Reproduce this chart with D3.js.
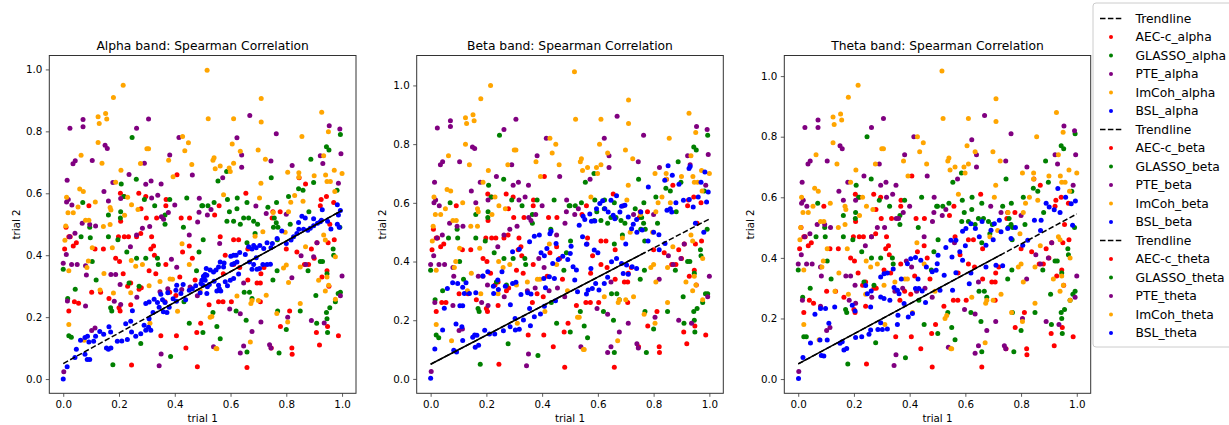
<!DOCTYPE html>
<html>
<head>
<meta charset="utf-8">
<script src="https://cdn.jsdelivr.net/npm/d3@7"></script>
<style>
  body { margin: 0; background: #fff; }
  text { font-family: "DejaVu Sans", sans-serif; fill: #000; }
</style>
</head>
<body>
<svg id="chart" width="1229" height="425"></svg>
<script>
// chart data

const bands = ['alpha', 'beta', 'theta'];
const titles = ['Alpha band: Spearman Correlation', 'Beta band: Spearman Correlation', 'Theta band: Spearman Correlation'];
const seriesNames = ['AEC-c', 'GLASSO', 'PTE', 'ImCoh', 'BSL'];
const seriesColors = ['#ff0000', '#008000', '#800080', '#ffa500', '#0000ff'];
const tickValues = [0, 0.2, 0.4, 0.6, 0.8, 1.0];
const xRange = [-0.05, 1.05];
const yRanges = [[-0.046, 1.045], [-0.049, 1.102], [-0.047, 1.068]];
const trendX = [0, 1];
const trendY = [0.05, 0.545];
// part of the trendline that looks solid in each panel
const trendSolid = [[0.31, 1], [0, 0.77], [0, 0.73]];

// rows: [trial 1, trial 2 alpha, trial 2 beta, trial 2 theta]
const aecRows = [
    [0.408,.66,.69,.67],[0.092,.56,.59,.57],[0.205,.60,.63,.61],[0.219,.59,.62,.60],[0.271,.60,.63,.61],
    [0.296,.59,.62,.60],[0.279,.55,.58,.56],[0.298,.52,.55,.53],[0.335,.52,.55,.53],[0.369,.58,.61,.59],
    [0.423,.52,.55,.53],[0.453,.52,.55,.53],[0.368,.56,.59,.57],[0.206,.51,.54,.52],[0.655,.60,.63,.61],
    [0.869,.63,.66,.64],[0.846,.65,.68,.66],[0.944,.59,.62,.60],[0.925,.58,.61,.59],[0.922,.56,.59,.57],
    [0.559,.56,.59,.57],[0.543,.53,.56,.54],[0.778,.54,.57,.55],[0.752,.54,.57,.55],[0.956,.50,.53,.51],
    [0.749,.52,.55,.53],[0.025,.46,.48,.47],[0.047,.44,.46,.45],[0.036,.43,.45,.44],[0.020,.22,.23,.22],
    [0.040,.25,.26,.26],[0.055,.245,.26,.25],[0.114,.42,.44,.43],[0.144,.42,.44,.43],[0.188,.39,.41,.40],
    [0.202,.38,.40,.39],[0.198,.46,.48,.47],[0.219,.46,.48,.47],[0.234,.46,.48,.47],[0.263,.46,.48,.47],
    [0.278,.47,.49,.48],[0.317,.46,.48,.47],[0.324,.43,.45,.44],[0.314,.42,.44,.43],[0.327,.40,.42,.41],
    [0.332,.34,.36,.35],[0.215,.34,.36,.35],[0.231,.30,.32,.31],[0.242,.31,.33,.32],[0.272,.29,.30,.30],
    [0.280,.295,.31,.30],[0.102,.28,.29,.29],[0.134,.28,.29,.29],[0.164,.26,.27,.27],[0.200,.23,.24,.23],
    [0.204,.22,.23,.22],[0.242,.24,.25,.24],[0.308,.35,.37,.36],[0.365,.25,.26,.26],[0.368,.37,.39,.38],
    [0.382,.28,.29,.29],[0.404,.27,.28,.28],[0.418,.33,.35,.34],[0.428,.41,.43,.42],[0.452,.43,.45,.44],
    [0.463,.39,.41,.40],[0.473,.32,.34,.33],[0.350,.14,.15,.14],[0.406,.14,.15,.14],[0.440,.10,.11,.10],
    [0.245,.045,.05,.05],[0.481,.04,.04,.04],[0.479,.15,.16,.15],[0.493,.18,.19,.18],[0.010,.49,.51,.50],
    [0.020,.46,.48,.47],[0.005,.42,.44,.43],[0.563,.46,.48,.47],[0.611,.45,.47,.46],[0.629,.45,.47,.46],
    [0.581,.40,.42,.41],[0.611,.37,.39,.38],[0.662,.42,.44,.43],[0.633,.36,.38,.37],[0.574,.34,.36,.35],
    [0.695,.31,.33,.32],[0.707,.31,.33,.32],[0.709,.34,.36,.35],[0.662,.32,.34,.33],[0.557,.25,.26,.26],
    [0.573,.25,.26,.26],[0.523,.24,.25,.24],[0.603,.25,.26,.26],[0.707,.25,.26,.26],[0.779,.17,.18,.17],
    [0.812,.22,.23,.22],[0.820,.10,.11,.10],[0.821,.08,.09,.08],[0.659,.037,.04,.04],[0.746,.10,.11,.10],
    [0.865,.37,.39,.38],[0.880,.37,.39,.38],[0.910,.44,.46,.45],[0.972,.45,.47,.46],[0.970,.57,.60,.58],
    [0.928,.33,.35,.34],[0.946,.35,.37,.36],[0.953,.30,.32,.31],[0.908,.15,.16,.15],[0.919,.11,.12,.11],
    [0.987,.14,.15,.14],[0.948,.17,.18,.17],[0.838,.41,.43,.42],[0.800,.42,.44,.43],[0.890,.42,.44,.43],
    [0.900,.39,.41,.40],[0.950,.44,.46,.45],[0.720,.36,.38,.37]
];

const glassoRows = [
    [0.247,.78,.83,.80],[0.208,.63,.66,.64],[0.262,.645,.68,.66],[0.070,.57,.60,.58],[0.162,.53,.56,.54],
    [0.206,.54,.57,.55],[0.205,.52,.55,.53],[0.217,.59,.62,.60],[0.291,.58,.61,.59],[0.328,.56,.59,.57],
    [0.382,.58,.61,.59],[0.365,.53,.56,.54],[0.365,.50,.53,.51],[0.443,.585,.61,.60],[0.497,.56,.59,.57],
    [0.586,.67,.70,.68],[0.555,.64,.67,.65],[0.746,.65,.68,.66],[0.888,.71,.74,.72],[0.944,.75,.79,.77],
    [0.953,.74,.78,.76],[0.994,.79,.83,.81],[0.898,.635,.67,.65],[0.844,.615,.65,.63],[0.860,.61,.64,.62],
    [0.982,.61,.64,.62],[0.589,.58,.61,.59],[0.624,.585,.61,.60],[0.659,.57,.60,.58],[0.541,.57,.60,.58],
    [0.500,.56,.59,.57],[0.519,.56,.59,.57],[0.596,.54,.57,.55],[0.623,.55,.58,.56],[0.765,.57,.60,.58],
    [0.734,.555,.58,.57],[0.808,.59,.62,.60],[0.881,.54,.57,.55],[0.587,.51,.54,.52],[0.611,.51,.54,.52],
    [0.647,.52,.55,.53],[0.665,.52,.55,.53],[0.683,.51,.54,.52],[0.697,.50,.53,.51],[0.757,.52,.55,.53],
    [0.764,.505,.53,.51],[0.770,.49,.51,.50],[0.814,.50,.53,.51],[0.000,.355,.37,.36],[0.020,.14,.15,.14],
    [0.029,.135,.14,.14],[0.016,.26,.27,.27],[0.043,.29,.30,.30],[0.064,.46,.48,.47],[0.097,.456,.48,.47],
    [0.095,.49,.51,.50],[0.162,.46,.48,.47],[0.196,.45,.47,.46],[0.118,.32,.34,.33],[0.104,.38,.40,.39],
    [0.170,.23,.24,.23],[0.174,.22,.23,.22],[0.228,.41,.43,.42],[0.263,.39,.41,.40],[0.296,.39,.41,.40],
    [0.272,.30,.32,.31],[0.338,.39,.41,.40],[0.341,.37,.39,.38],[0.236,.31,.33,.32],[0.431,.49,.51,.50],
    [0.487,.41,.43,.42],[0.478,.35,.37,.36],[0.502,.45,.47,.46],[0.278,.115,.12,.12],[0.178,.046,.05,.05],
    [0.385,.073,.08,.07],[0.452,.18,.19,.18],[0.433,.25,.26,.26],[0.635,.50,.53,.51],[0.659,.44,.46,.45],
    [0.688,.47,.49,.48],[0.754,.49,.51,.50],[0.768,.45,.47,.46],[0.767,.35,.37,.36],[0.752,.32,.34,.33],
    [0.878,.35,.37,.36],[0.922,.38,.40,.39],[0.946,.34,.36,.35],[0.968,.42,.44,.43],[0.992,.49,.51,.50],
    [0.906,.27,.28,.28],[0.956,.23,.24,.23],[0.944,.215,.23,.22],[0.946,.195,.20,.20],[0.948,.15,.16,.15],
    [0.986,.276,.29,.28],[0.994,.28,.29,.29],[0.976,.25,.26,.26],[0.909,.18,.19,.18],[0.850,.22,.23,.22],
    [0.769,.22,.23,.22],[0.800,.16,.17,.16],[0.774,.084,.09,.09],[0.656,.19,.20,.19],[0.620,.22,.23,.22],
    [0.563,.13,.14,.13],[0.551,.17,.18,.17],[0.537,.215,.23,.22],[0.501,.15,.16,.15],[0.659,.087,.09,.09],
    [0.649,.28,.29,.29],[0.668,.28,.29,.29],[0.677,.26,.27,.27],[0.930,.38,.40,.39],[0.970,.40,.42,.41]
];

const pteRows = [
    [0.071,.838,.88,.855],[0.071,.815,.86,.83],[0.024,.81,.855,.83],[0.306,.84,.885,.86],[0.263,.81,.85,.83],
    [0.150,.755,.79,.77],[0.158,.745,.785,.76],[0.415,.78,.82,.80],[0.035,.695,.73,.71],[0.043,.705,.74,.72],
    [0.104,.706,.74,.72],[0.382,.724,.76,.74],[0.291,.697,.73,.71],[0.236,.661,.69,.67],[0.463,.659,.69,.67],
    [0.014,.642,.67,.65],[0.178,.635,.67,.65],[0.296,.629,.66,.64],[0.315,.64,.67,.65],[0.351,.63,.66,.64],
    [0.146,.606,.64,.62],[0.012,.572,.60,.58],[0.018,.58,.61,.59],[0.031,.562,.59,.57],[0.162,.575,.60,.59],
    [0.339,.594,.62,.61],[0.317,.585,.61,.60],[0.206,.583,.61,.59],[0.487,.539,.57,.55],[0.488,.584,.61,.60],
    [0.400,.562,.59,.57],[0.482,.507,.53,.52],[0.352,.524,.55,.53],[0.377,.538,.56,.55],[0.360,.516,.54,.53],
    [0.068,.503,.53,.51],[0.116,.494,.52,.50],[0.669,.851,.895,.87],[0.764,.792,.83,.81],[0.623,.779,.82,.79],
    [0.640,.724,.76,.74],[0.640,.684,.72,.70],[0.745,.704,.74,.72],[0.821,.69,.72,.70],[0.922,.721,.76,.74],
    [0.931,.696,.73,.71],[0.954,.818,.86,.835],[0.992,.808,.85,.82],[0.996,.728,.765,.74],[0.987,.632,.66,.64],
    [0.572,.65,.68,.66],[0.530,.548,.58,.56],[0.517,.53,.56,.54],[0.691,.559,.59,.57],[0.728,.535,.56,.55],
    [0.800,.532,.56,.54],[0.000,.374,.39,.38],[0.011,.402,.42,.41],[0.030,.37,.39,.38],[0.050,.37,.39,.38],
    [0.080,.366,.38,.37],[0.083,.336,.35,.34],[0.015,.252,.26,.26],[0.080,.236,.25,.24],[0.102,.157,.165,.16],
    [0.114,.165,.17,.17],[0.171,.338,.35,.34],[0.188,.338,.35,.34],[0.204,.305,.32,.31],[0.183,.251,.26,.26],
    [0.206,.241,.25,.25],[0.264,.264,.28,.27],[0.284,.487,.51,.50],[0.263,.465,.49,.47],[0.241,.427,.45,.44],
    [0.310,.493,.52,.50],[0.388,.387,.41,.39],[0.407,.361,.38,.37],[0.347,.282,.30,.29],[0.375,.292,.31,.30],
    [0.344,.043,.045,.045],[0.351,.081,.085,.08],[0.095,.499,.52,.51],[0.042,.471,.49,.48],[0.023,.46,.48,.47],
    [0.452,.465,.49,.47],[0.481,.269,.28,.27],[0.455,.297,.31,.30],[0.425,.289,.30,.29],[0.002,.024,.025,.025],
    [0.561,.438,.46,.45],[0.647,.31,.33,.32],[0.820,.327,.34,.33],[0.853,.398,.42,.41],[0.898,.395,.41,.40],
    [1.000,.333,.35,.34],[0.994,.269,.28,.27],[0.890,.189,.20,.19],[0.936,.181,.19,.18],[0.805,.20,.21,.20],
    [0.709,.184,.19,.19],[0.677,.154,.16,.16],[0.647,.107,.11,.11],[0.635,.084,.09,.085],[0.740,.111,.12,.11],
    [0.745,.100,.105,.10],[0.539,.104,.11,.105],[0.597,.226,.24,.23],[0.635,.211,.22,.215],[0.870,.37,.39,.38],
    [0.910,.44,.46,.45]
];

const imcohRows = [
    [0.215,.949,1.00,.97],[0.180,.909,.955,.93],[0.152,.858,.90,.875],[0.125,.847,.89,.865],[0.156,.840,.88,.855],
    [0.129,.825,.87,.84],[0.125,.764,.80,.78],[0.064,.723,.76,.74],[0.139,.697,.73,.71],[0.306,.744,.78,.76],
    [0.300,.744,.78,.76],[0.207,.674,.71,.69],[0.277,.696,.73,.71],[0.428,.783,.82,.80],[0.449,.763,.80,.78],
    [0.436,.737,.77,.75],[0.461,.693,.73,.71],[0.378,.707,.74,.72],[0.394,.653,.69,.67],[0.188,.636,.67,.65],
    [0.059,.614,.645,.63],[0.072,.606,.64,.62],[0.012,.587,.62,.60],[0.115,.572,.60,.58],[0.245,.563,.59,.57],
    [0.231,.587,.62,.60],[0.268,.548,.58,.56],[0.168,.554,.58,.57],[0.171,.546,.57,.56],[0.017,.537,.56,.55],
    [0.036,.537,.56,.55],[0.053,.556,.58,.57],[0.080,.513,.54,.52],[0.092,.513,.54,.52],[0.168,.499,.52,.51],
    [0.009,.494,.52,.50],[0.220,.529,.56,.54],[0.516,.997,1.047,1.017],[0.520,.841,.885,.86],[0.611,.841,.885,.86],
    [0.710,.906,.95,.925],[0.710,.830,.87,.85],[0.927,.862,.905,.88],[0.606,.759,.80,.77],[0.635,.736,.77,.75],
    [0.699,.740,.78,.75],[0.541,.715,.75,.73],[0.537,.707,.74,.72],[0.563,.688,.72,.70],[0.545,.679,.71,.69],
    [0.611,.697,.73,.71],[0.595,.682,.72,.70],[0.599,.670,.70,.68],[0.725,.710,.75,.72],[0.709,.632,.66,.64],
    [0.856,.783,.82,.80],[0.951,.799,.84,.815],[0.934,.721,.76,.74],[0.805,.668,.70,.68],[0.845,.666,.70,.68],
    [0.900,.657,.69,.67],[0.941,.659,.69,.67],[0.972,.674,.71,.69],[1.000,.664,.70,.68],[0.946,.638,.67,.65],
    [0.958,.638,.67,.65],[0.845,.652,.68,.66],[0.575,.595,.62,.61],[0.704,.585,.61,.60],[0.860,.574,.60,.59],
    [0.974,.606,.64,.62],[0.816,.571,.60,.58],[0.830,.593,.62,.60],[0.808,.540,.57,.55],[0.753,.538,.56,.55],
    [0.006,.448,.47,.46],[0.144,.493,.52,.50],[0.104,.424,.445,.43],[0.176,.424,.445,.43],[0.260,.364,.38,.37],
    [0.284,.370,.39,.38],[0.244,.383,.40,.39],[0.308,.301,.32,.31],[0.180,.278,.29,.28],[0.242,.279,.29,.28],
    [0.020,.176,.185,.18],[0.075,.125,.13,.13],[0.146,.341,.36,.35],[0.090,.381,.40,.39],[0.392,.322,.34,.33],
    [0.426,.437,.46,.45],[0.452,.370,.39,.38],[0.410,.219,.23,.22],[0.020,.350,.37,.36],[0.085,.360,.38,.37],
    [0.132,.288,.30,.29],[0.347,.315,.33,.32],[0.383,.323,.34,.33],[0.491,.288,.30,.29],[0.533,.202,.21,.21],
    [0.311,.180,.19,.18],[0.548,.099,.10,.10],[0.688,.461,.48,.47],[0.716,.476,.50,.49],[0.796,.474,.50,.48],
    [0.850,.362,.38,.37],[0.869,.427,.45,.44],[0.934,.465,.49,.47],[0.940,.449,.47,.46],[0.976,.395,.41,.40],
    [0.946,.330,.35,.34],[0.952,.303,.32,.31],[0.940,.284,.30,.29],[0.976,.258,.27,.26],[0.916,.319,.33,.33],
    [0.800,.368,.39,.38],[0.790,.359,.38,.37],[0.808,.312,.33,.32],[0.728,.271,.28,.28],[0.700,.254,.27,.26],
    [0.677,.254,.27,.26],[0.673,.244,.26,.25],[0.623,.268,.28,.27],[0.766,.212,.22,.22],[0.805,.184,.19,.19],
    [0.850,.244,.26,.25],[0.671,.120,.13,.12],[0.551,.098,.10,.10],[0.527,.200,.21,.20]
];

// BSL differs per band: [trial 1, trial 2]
const bslAlpha = [
    [0.000,0.000],[0.014,0.040],[0.042,0.070],[0.078,0.080],[0.086,0.063],[0.095,0.063],[0.047,0.096],[0.062,0.125],
    [0.078,0.134],[0.087,0.138],[0.092,0.120],[0.109,0.122],[0.116,0.138],[0.131,0.154],[0.145,0.145],[0.164,0.169],
    [0.170,0.152],[0.155,0.100],[0.162,0.096],[0.171,0.100],[0.194,0.122],[0.210,0.123],[0.230,0.128],[0.245,0.152],
    [0.224,0.179],[0.242,0.187],[0.260,0.138],[0.278,0.146],[0.296,0.158],[0.306,0.167],[0.314,0.158],[0.290,0.174],
    [0.308,0.195],[0.322,0.215],[0.296,0.244],[0.308,0.249],[0.326,0.258],[0.338,0.247],[0.344,0.232],[0.356,0.256],
    [0.359,0.217],[0.380,0.232],[0.394,0.259],[0.406,0.251],[0.365,0.247],[0.350,0.274],[0.375,0.279],[0.404,0.287],
    [0.422,0.276],[0.430,0.305],[0.439,0.256],[0.452,0.287],[0.463,0.292],[0.475,0.301],[0.494,0.309],[0.505,0.330],
    [0.509,0.338],[0.407,0.303],[0.372,0.215],[0.248,0.221],
    [0.922,0.508],[0.898,0.495],[0.886,0.487],[0.877,0.481],[0.862,0.484],[0.845,0.484],[0.826,0.460],[0.838,0.470],
    [0.817,0.449],[0.800,0.438],[0.784,0.478],[0.767,0.454],[0.750,0.438],[0.745,0.424],[0.731,0.440],[0.719,0.422],
    [0.705,0.431],[0.692,0.424],[0.683,0.431],[0.677,0.420],[0.665,0.427],[0.633,0.409],[0.620,0.400],[0.611,0.400],
    [0.601,0.397],[0.623,0.378],[0.613,0.373],[0.605,0.370],[0.653,0.402],[0.668,0.378],[0.683,0.370],[0.716,0.370],
    [0.731,0.370],[0.743,0.371],[0.704,0.357],[0.695,0.355],[0.563,0.378],[0.577,0.375],[0.575,0.362],[0.557,0.362],
    [0.539,0.346],[0.548,0.352],[0.527,0.352],[0.515,0.335],[0.503,0.332],[0.497,0.319],[0.509,0.319],[0.524,0.305],
    [0.517,0.298],[0.541,0.316],[0.557,0.303],[0.560,0.292],[0.551,0.284],[0.565,0.284],[0.581,0.314],[0.599,0.319],
    [0.611,0.325],[0.589,0.301],[0.629,0.339],[0.677,0.355],[0.513,0.357],[0.501,0.303],[0.515,0.276],[0.491,0.279],
    [0.692,0.392],[0.844,0.506],[0.856,0.526],[0.868,0.520],[0.898,0.518],[0.926,0.513],[0.929,0.547],[0.983,0.563],
    [0.987,0.530],[0.994,0.544],[0.948,0.510],[0.983,0.500],[0.912,0.503],[0.960,0.485],[0.990,0.490]
];

const bslBeta = [
    [0.000,0.002],[0.015,0.102],[0.083,0.098],[0.093,0.092],[0.115,0.131],[0.151,0.142],[0.158,0.150],[0.166,0.149],
    [0.160,0.108],[0.172,0.115],[0.194,0.166],[0.211,0.153],[0.230,0.153],[0.261,0.164],[0.285,0.178],[0.304,0.167],
    [0.318,0.169],[0.303,0.206],[0.333,0.201],[0.358,0.181],[0.372,0.212],[0.408,0.248],[0.394,0.221],[0.355,0.240],
    [0.348,0.294],[0.360,0.289],[0.324,0.288],[0.286,0.253],[0.306,0.329],[0.294,0.325],[0.268,0.316],[0.243,0.305],
    [0.225,0.316],[0.226,0.291],[0.241,0.337],[0.256,0.365],[0.205,0.365],[0.187,0.351],[0.162,0.294],[0.139,0.291],
    [0.121,0.291],[0.127,0.328],[0.115,0.312],[0.097,0.325],[0.079,0.328],[0.060,0.308],[0.049,0.241],[0.105,0.249],
    [0.115,0.249],[0.091,0.187],[0.112,0.178],[0.043,0.167],[0.294,0.433],[0.318,0.442],[0.355,0.467],[0.372,0.486],
    [0.390,0.490],[0.396,0.430],[0.408,0.420],[0.417,0.444],[0.428,0.495],[0.432,0.503],[0.450,0.461],[0.438,0.393],
    [0.458,0.407],[0.474,0.418],[0.492,0.407],[0.501,0.427],[0.504,0.452],[0.426,0.348],[0.444,0.342],[0.406,0.342],
    [0.412,0.311],[0.448,0.266],
    [0.517,0.337],[0.523,0.371],[0.511,0.382],[0.527,0.297],[0.559,0.289],[0.565,0.303],[0.580,0.308],[0.592,0.325],
    [0.604,0.303],[0.623,0.325],[0.635,0.346],[0.575,0.376],[0.587,0.439],[0.545,0.484],[0.559,0.459],[0.553,0.543],
    [0.547,0.554],[0.533,0.524],[0.571,0.562],[0.577,0.537],[0.589,0.538],[0.595,0.580],[0.607,0.598],[0.617,0.607],
    [0.625,0.580],[0.637,0.569],[0.647,0.609],[0.667,0.624],[0.655,0.558],[0.661,0.546],[0.679,0.569],[0.685,0.588],
    [0.697,0.592],[0.709,0.552],[0.721,0.512],[0.727,0.527],[0.739,0.543],[0.754,0.569],[0.759,0.507],[0.781,0.654],
    [0.649,0.399],[0.667,0.410],[0.685,0.393],[0.703,0.388],[0.723,0.382],[0.739,0.376],[0.691,0.359],[0.709,0.357],
    [0.819,0.491],[0.841,0.461],[0.848,0.575],[0.865,0.569],[0.907,0.609],[0.928,0.611],[0.942,0.586],[0.927,0.717],
    [0.931,0.724],[0.984,0.705],[0.990,0.603],[0.996,0.637],[0.852,0.726],[0.840,0.677],[0.867,0.694],[0.891,0.663],
    [0.880,0.600],[0.970,0.670],[0.820,0.440],[0.860,0.580],[0.600,0.430],[0.700,0.460],[0.740,0.500],[0.780,0.470],
    [0.800,0.500],[0.950,0.530],[0.980,0.500],[0.960,0.620]
];

const bslTheta = [
    [0.001,0.002],[0.017,0.071],[0.044,0.119],[0.083,0.078],[0.092,0.076],[0.078,0.129],[0.104,0.129],[0.110,0.184],
    [0.060,0.214],[0.080,0.233],[0.098,0.233],[0.131,0.238],[0.150,0.118],[0.158,0.123],[0.164,0.096],[0.174,0.101],
    [0.206,0.137],[0.228,0.140],[0.254,0.148],[0.260,0.162],[0.286,0.164],[0.302,0.164],[0.320,0.165],[0.296,0.186],
    [0.356,0.180],[0.358,0.211],[0.395,0.205],[0.410,0.216],[0.204,0.225],[0.194,0.244],[0.260,0.238],[0.248,0.282],
    [0.262,0.291],[0.242,0.309],[0.296,0.271],[0.308,0.266],[0.329,0.260],[0.344,0.302],[0.356,0.293],[0.362,0.282],
    [0.380,0.249],[0.421,0.299],[0.433,0.299],[0.445,0.291],[0.457,0.253],[0.296,0.337],[0.308,0.348],[0.341,0.363],
    [0.392,0.381],[0.404,0.397],[0.421,0.401],[0.440,0.392],[0.481,0.354],[0.499,0.381],[0.502,0.409],[0.320,0.350],
    [0.370,0.330],[0.460,0.370],[0.430,0.330],
    [0.495,0.359],[0.509,0.293],[0.530,0.434],[0.548,0.458],[0.552,0.403],[0.566,0.458],[0.590,0.488],[0.602,0.497],
    [0.620,0.513],[0.636,0.497],[0.674,0.442],[0.692,0.491],[0.704,0.513],[0.722,0.524],[0.728,0.486],[0.752,0.497],
    [0.764,0.464],[0.806,0.442],[0.824,0.458],[0.848,0.524],[0.872,0.524],[0.901,0.568],[0.919,0.559],[0.932,0.629],
    [0.980,0.579],[0.985,0.508],[0.995,0.588],[0.674,0.370],[0.710,0.376],[0.734,0.374],[0.590,0.392],[0.566,0.351],
    [0.614,0.315],[0.554,0.293],[0.524,0.343],[0.600,0.440],[0.650,0.470],[0.700,0.460],[0.780,0.500],[0.870,0.490],
    [0.940,0.550],[0.960,0.600],[0.890,0.580],[0.660,0.520],[0.580,0.420],[0.620,0.350]
];

const sharedRows = [aecRows, glassoRows, pteRows, imcohRows];
const bslByBand = [bslAlpha, bslBeta, bslTheta];

// layout
const svg = d3.select('#chart');
const plotTop = 55.5;
const plotBottom = 393.3;
const panels = [
    {left: 49.3, right: 356, labelX: 19.5},
    {left: 416.7, right: 723.3, labelX: 385.7},
    {left: 784.3, right: 1090.7, labelX: 754}
];
const fmt = d3.format('.1f');

bands.forEach((band, b) => {
    let p = panels[b];
    let x = d3.scaleLinear().domain(xRange).range([p.left, p.right]);
    let y = d3.scaleLinear().domain(yRanges[b]).range([plotBottom, plotTop]);
    let g = svg.append('g').attr('class', 'panel-' + band);

    // scatter, in legend order so BSL ends up on top
    seriesNames.forEach((name, i) => {
        let pts = i < 4 ? sharedRows[i].map(r => [r[0], r[b + 1]]) : bslByBand[b];
        g.append('g')
            .selectAll('circle')
            .data(pts)
            .enter()
            .append('circle')
            .attr('cx', d => x(d[0]))
            .attr('cy', d => y(d[1]))
            .attr('r', 2.5)
            .attr('fill', seriesColors[i]);
    });

    // trendline: dashed all along, solid where the picture shows it solid
    let trend = d3.scaleLinear().domain(trendX).range(trendY);
    let line = d3.line().x(d => x(d)).y(d => y(trend(d)));
    g.append('path')
        .attr('d', line(trendX))
        .attr('fill', 'none')
        .attr('stroke', '#000')
        .attr('stroke-width', 1.5)
        .attr('stroke-dasharray', '5.5,2.4');
    g.append('path')
        .attr('d', line(trendSolid[b]))
        .attr('fill', 'none')
        .attr('stroke', '#000')
        .attr('stroke-width', 1.5);

    // axes
    let xAxis = g.append('g')
        .attr('transform', `translate(0,${plotBottom})`)
        .call(d3.axisBottom(x).tickValues(tickValues).tickFormat(fmt).tickSize(3.5).tickPadding(3.5));
    let yAxis = g.append('g')
        .attr('transform', `translate(${p.left},0)`)
        .call(d3.axisLeft(y).tickValues(tickValues).tickFormat(fmt).tickSize(3.5).tickPadding(3.5));
    [xAxis, yAxis].forEach(ax => {
        ax.select('.domain').remove();
        ax.selectAll('line').attr('stroke', '#333').attr('stroke-width', 0.8);
        ax.selectAll('text').attr('font-size', '10.3px').attr('font-family', '"DejaVu Sans", sans-serif').attr('fill', '#000');
    });

    g.append('rect')
        .attr('x', p.left)
        .attr('y', plotTop)
        .attr('width', p.right - p.left)
        .attr('height', plotBottom - plotTop)
        .attr('fill', 'none')
        .attr('stroke', '#333')
        .attr('stroke-width', 1);

    g.append('text')
        .attr('x', (p.left + p.right) / 2)
        .attr('y', 49.5)
        .attr('text-anchor', 'middle')
        .attr('font-size', '12.3px')
        .text(titles[b]);

    g.append('text')
        .attr('x', (p.left + p.right) / 2)
        .attr('y', 422)
        .attr('text-anchor', 'middle')
        .attr('font-size', '10.3px')
        .text('trial 1');

    g.append('text')
        .attr('transform', `translate(${p.labelX},${(plotTop + plotBottom) / 2}) rotate(-90)`)
        .attr('text-anchor', 'middle')
        .attr('font-size', '10.3px')
        .text('trial 2');
});

// legend
let legendItems = [];
bands.forEach(band => {
    legendItems.push({label: 'Trendline', type: 'line'});
    seriesNames.forEach((name, i) => legendItems.push({label: name + '_' + band, type: 'dot', color: seriesColors[i]}));
});

let legend = svg.append('g').attr('class', 'legend');
legend.append('rect')
    .attr('x', 1093)
    .attr('y', 3)
    .attr('width', 150)
    .attr('height', 344)
    .attr('rx', 3)
    .attr('fill', '#fff')
    .attr('stroke', '#ccc');

let rows = legend.selectAll('g.item')
    .data(legendItems)
    .enter()
    .append('g')
    .attr('class', 'item')
    .attr('transform', (d, i) => `translate(0,${18.5 + i * 18.5})`);

rows.filter(d => d.type === 'line')
    .append('line')
    .attr('x1', 1100).attr('x2', 1122)
    .attr('stroke', '#000')
    .attr('stroke-width', 1.5)
    .attr('stroke-dasharray', '5.5,2.4');

rows.filter(d => d.type === 'dot')
    .append('circle')
    .attr('cx', 1111)
    .attr('r', 2)
    .attr('fill', d => d.color);

rows.append('text')
    .attr('x', 1135.5)
    .attr('dy', '0.35em')
    .attr('font-size', '12.3px')
    .text(d => d.label);
</script>
</body>
</html>
